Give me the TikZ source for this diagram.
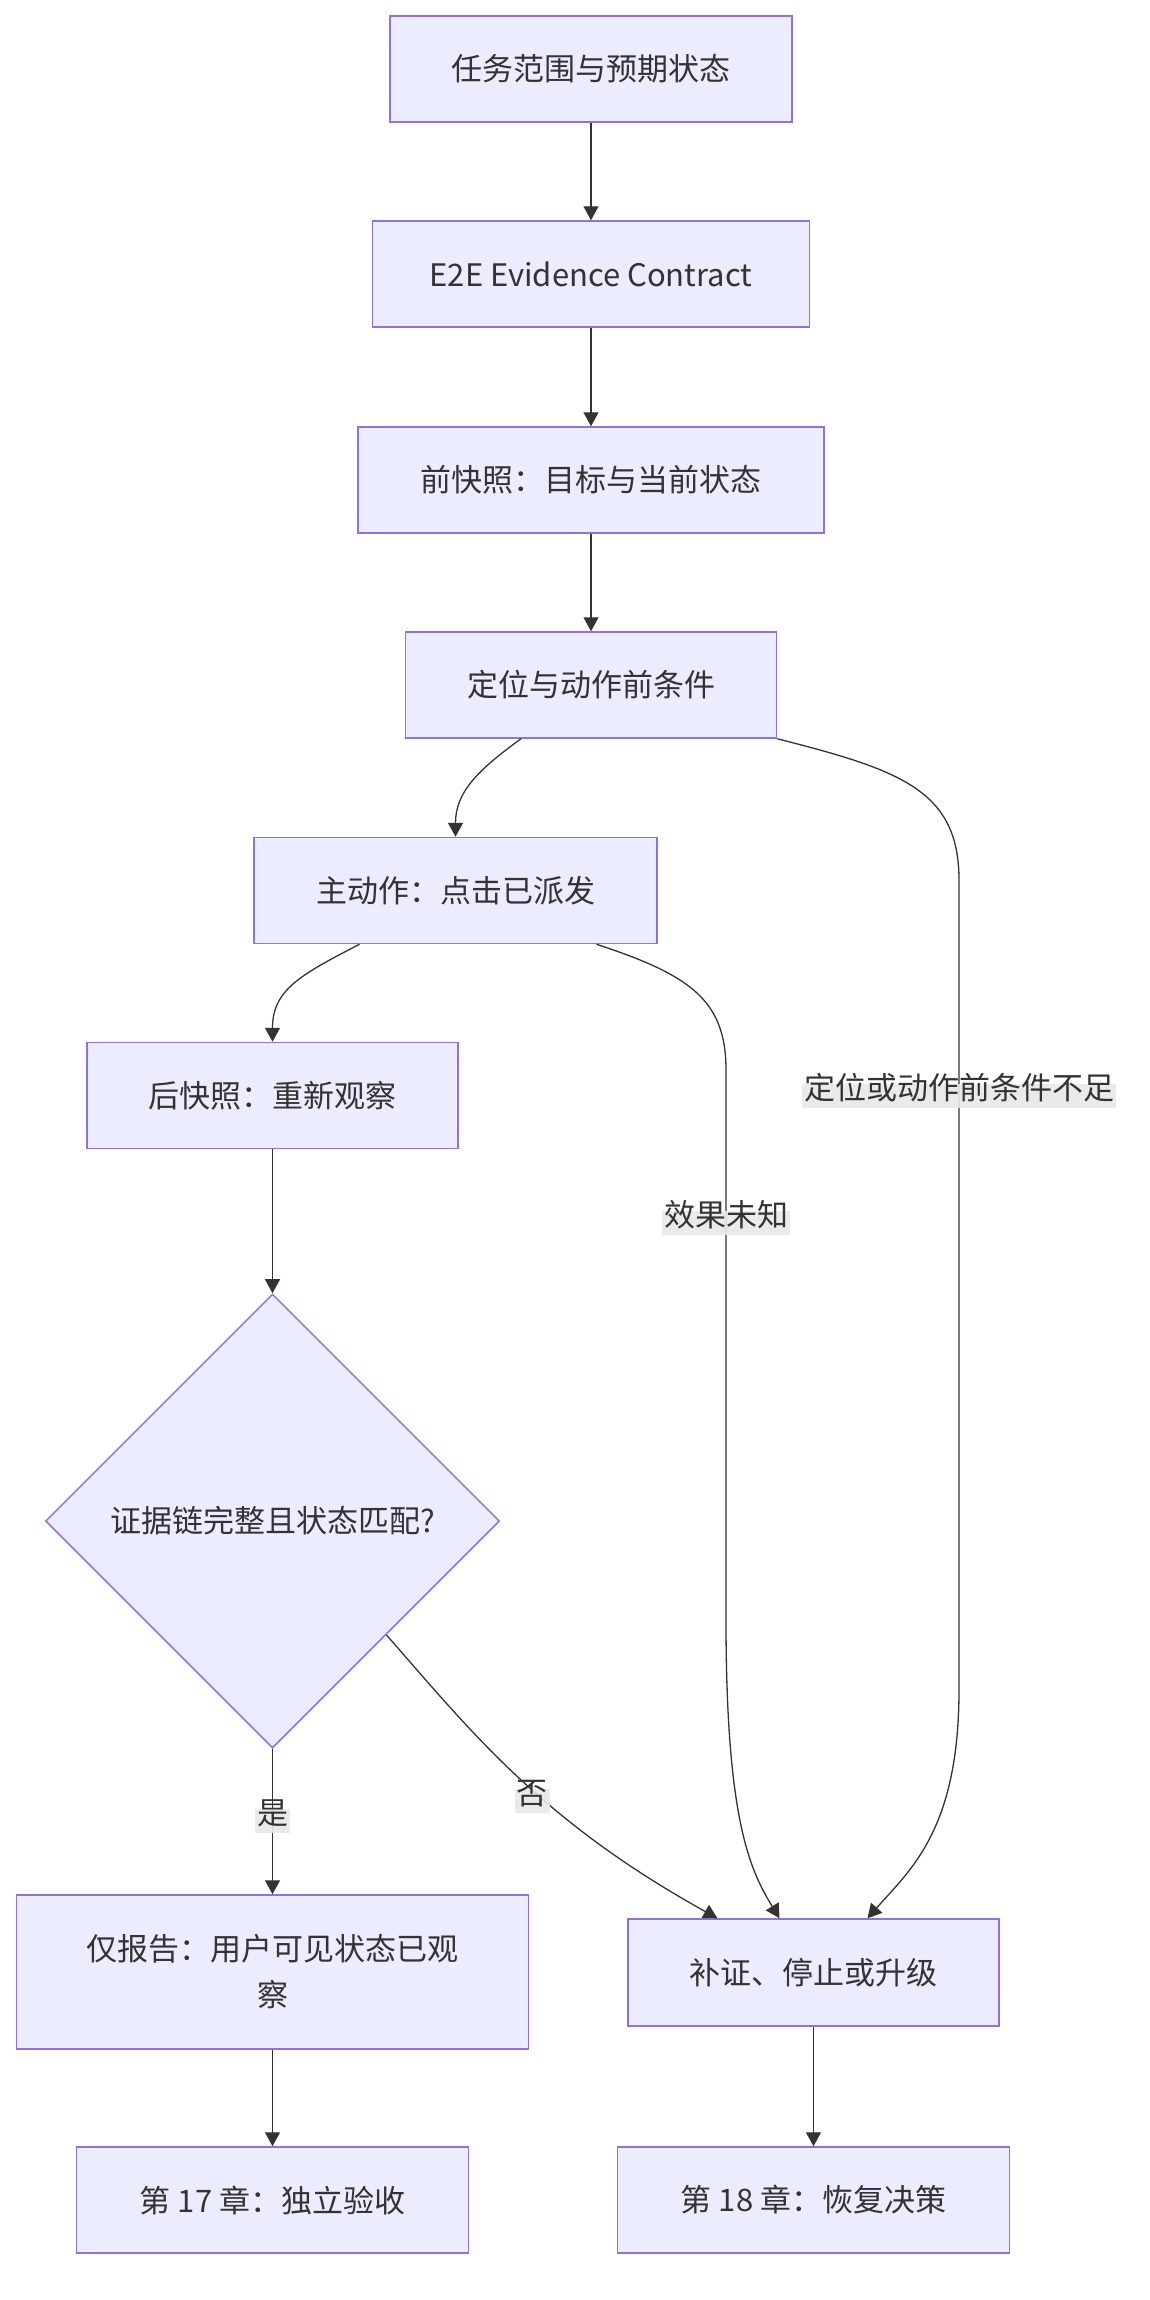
\documentclass[tikz,border=0pt]{standalone}
\usepackage{fontspec}
\setmainfont{Noto Sans CJK SC}
\usetikzlibrary{shapes.geometric,arrows.meta,calc}
\definecolor{nodefill}{HTML}{ECECFF}
\definecolor{nodeline}{HTML}{9370DB}
\definecolor{ink}{HTML}{333333}
\definecolor{lblbg}{HTML}{E8E8E8}
\begin{document}
\begin{tikzpicture}[x=1pt,y=-1pt,
  box/.style={draw=nodeline, fill=nodefill, line width=1.5pt, text=ink,
    font=\fontsize{31}{46}\selectfont, inner sep=0pt, align=center, minimum height=106},
  dia/.style={shape=diamond, aspect=1, draw=nodeline, fill=nodefill, line width=1.5pt, text=ink,
    font=\fontsize{31}{46}\selectfont, inner sep=0pt, minimum width=454, minimum height=454},
  edge/.style={draw=ink, line width=1.3pt, -{Triangle[length=14pt,width=15pt]}},
  elabel/.style={fill=lblbg, fill opacity=0.9, text opacity=1, text=ink,
    font=\fontsize{31}{46}\selectfont, inner xsep=2pt, inner ysep=6pt,
    text height=0.9em, text depth=0.22em}
]
\useasboundingbox (0,0) rectangle (1150,2300);

\node[box, minimum width=402] (n1) at (591,69) {任务范围与预期状态};
\node[box, minimum width=437] (n2) at (591,274) {E2E Evidence Contract};
\node[box, minimum width=466] (n3) at (591,480) {前快照：目标与当前状态};
\node[box, minimum width=371] (n4) at (591,685) {定位与动作前条件};
\node[box, minimum width=403] (n5) at (455.5,890.5) {主动作：点击已派发};
\node[box, minimum width=371] (n6) at (272.5,1095.5) {后快照：重新观察};
\node[dia] (d) at (272.5,1521) {证据链完整且状态匹配?};
\node[box, minimum width=512, minimum height=154] (n8) at (272.5,1972) {仅报告：用户可见状态已观\\察};
\node[box, minimum width=371, minimum height=107] (n9) at (813.5,1972.5) {补证、停止或升级};
\node[box, minimum width=392] (n10) at (272.5,2200) {第 17 章：独立验收};
\node[box, minimum width=392] (n11) at (813.5,2200) {第 18 章：恢复决策};

\draw[edge] (n1) -- (n2);
\draw[edge] (n2) -- (n3);
\draw[edge] (n3) -- (n4);
\draw[edge] ($(n4.south)+(-70,0)$) .. controls (478,770) and (455.5,792) .. (n5.north);
\draw[edge] (n4.south east) .. controls (900,770) and (959,790) .. (959,880) -- (959,1690)
  .. controls (959,1830) and (910,1870) .. ($(n9.north)+(54,0)$);
\draw[edge] ($(n5.south)+(-96,0)$) .. controls (300,975) and (272.5,990) .. (n6.north);
\draw[edge] ($(n5.south)+(141,0)$) .. controls (690,975) and (726,1000) .. (726,1070) -- (726,1620)
  .. controls (726,1820) and (750,1870) .. ($(n9.north)+(-34,0)$);
\draw[edge] (n6) -- (d);
\draw[edge] (d) -- (n8);
\draw[edge] (d.south east) .. controls (470,1730) and (540,1820) .. ($(n9.north)+(-96,0)$);
\draw[edge] (n8) -- (n10);
\draw[edge] (n9) -- (n11);

\node[elabel] (l1) at (959,1096) {定位或动作前条件不足};
\node[elabel] (l2) at (726,1223) {效果未知};
\node[elabel] (l3) at (272.5,1821) {是};
\node[elabel] (l4) at (532,1801) {否};
\end{tikzpicture}
\end{document}
